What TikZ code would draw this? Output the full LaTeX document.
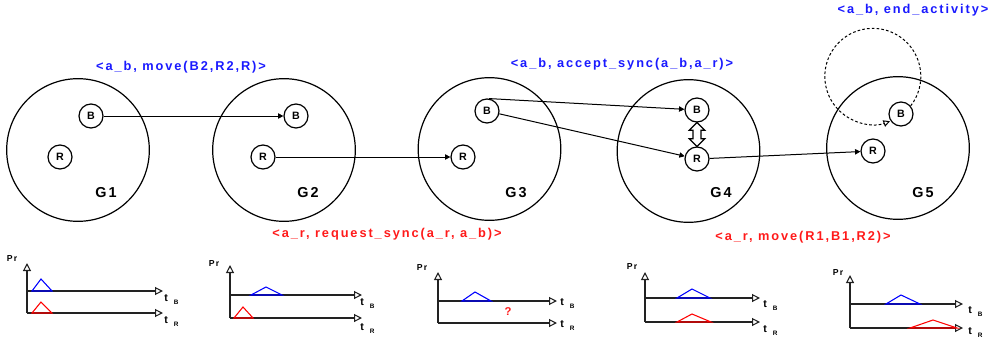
\documentclass[tikz,border=0pt]{standalone}
\usepackage{fontspec}
\setmainfont{Liberation Sans}[LetterSpace=15]
\usepackage{tikz}
\usetikzlibrary{arrows.meta,shapes.arrows}
\definecolor{msgb}{HTML}{1A1AFF}
\definecolor{msgr}{HTML}{FF1A1A}
\definecolor{axc}{HTML}{222222}
\newcommand{\tsub}[1]{t\hspace{4.5pt}\raisebox{-2.5pt}{\fontsize{4.8}{5}\selectfont #1}}
\tikzset{
  grp/.style={draw,line width=0.9pt,circle,minimum size=107pt,inner sep=0pt},
  ag/.style={draw,line width=0.9pt,circle,minimum size=18pt,inner sep=0pt,font=\bfseries\fontsize{8}{9}\selectfont},
  gname/.style={font=\bfseries\fontsize{10.8}{12}\selectfont},
  msg/.style={font=\bfseries\fontsize{9.6}{11}\selectfont,inner sep=0pt},
  ar/.style={-{Triangle[length=4pt,width=4pt]},line width=0.75pt},
  ax/.style={-{Triangle[open,length=6pt,width=6pt]},line width=0.8pt,axc},
  prl/.style={font=\bfseries\fontsize{6.5}{7}\selectfont,inner sep=0pt},
  tl/.style={anchor=base west,inner sep=0pt,font=\bfseries\fontsize{8}{9}\selectfont},
  pkb/.style={draw=blue,line width=0.8pt},
  pkr/.style={draw=red,line width=0.8pt}
}
\begin{document}
\begin{tikzpicture}[x=0.75pt,y=-0.75pt]
\useasboundingbox (0,0) rectangle (989,343);
% groups
\node[grp] (g1) at (78,150) {};
\node[grp] (g2) at (284,150) {};
\node[grp] (g3) at (489.5,149) {};
\node[grp] (g4) at (688.5,151) {};
\node[grp] (g5) at (898,148) {};
\node[gname] (gl1) at (106,193) {G1};
\node[gname] (gl2) at (308,193) {G2};
\node[gname] (gl3) at (516,193) {G3};
\node[gname] (gl4) at (721,193) {G4};
\node[gname] (gl5) at (923,193) {G5};
% agents
\node[ag] (b1) at (91,116) {B};
\node[ag] (r1) at (60,157) {R};
\node[ag] (b2) at (296,116) {B};
\node[ag] (r2) at (263,157) {R};
\node[ag] (b3) at (487,111) {B};
\node[ag] (r3) at (463,157) {R};
\node[ag] (b4) at (697,110) {B};
\node[ag] (r4) at (697,159) {R};
\node[ag] (b5) at (901,114) {B};
\node[ag] (r5) at (873,151) {R};
% moves
\draw[ar] (b1) -- (b2);
\draw[ar] (r2) -- (r3);
\draw[ar] (b3.80) -- (b4);
\draw[ar] (b3) -- (r4);
\draw[ar] (r4) -- (r5);
\node[draw,double arrow,rotate=90,minimum height=18pt,minimum width=11pt,
  inner sep=2.6pt,double arrow head extend=2.8pt,line width=0.9pt] (sync) at (697,134.5) {};
\draw[dashed,dash pattern=on 2pt off 1.6pt,line width=0.75pt,-{Triangle[open,length=5pt,width=5pt]}]
  (b5.40) arc[start angle=38,end angle=-291,radius=48];
% actions
\node[msg,msgb] (m1) at (181,67) {<a\_b, move(B2,R2,R)>};
\node[msg,msgb] (m2) at (622,64) {<a\_b, accept\_sync(a\_b,a\_r)>};
\node[msg,msgb] (m3) at (913,10) {<a\_b, end\_activity>};
\node[msg,msgr] (m4) at (387,234) {<a\_r, request\_sync(a\_r, a\_b)>};
\node[msg,msgr] (m5) at (803,237) {<a\_r, move(R1,B1,R2)>};
% chart 1
\draw[ax] (27,313) -- (27,263);
\draw[ax] (27,291) -- (163,291);
\draw[ax] (27,313) -- (163,313);
\draw[pkb] (32,291) -- (41,279) -- (52,291) -- cycle;
\draw[pkr] (32,313) -- (41,302) -- (52,313) -- cycle;
\node[prl] (p1) at (12,259) {Pr};
\node[tl] (tb1) at (164,301) {\tsub{B}};
\node[tl] (tr1) at (164,323) {\tsub{R}};
% chart 2
\draw[ax] (230,318) -- (230,265);
\draw[ax] (230,295) -- (362,295);
\draw[ax] (230,318) -- (362,318);
\draw[pkb] (251,295) -- (266,287) -- (282,295) -- cycle;
\draw[pkr] (234,318) -- (243,307) -- (253,318) -- cycle;
\node[prl] (p2) at (214,264) {Pr};
\node[tl] (tb2) at (360,305) {\tsub{B}};
\node[tl] (tr2) at (360,330) {\tsub{R}};
% chart 3
\draw[ax] (438,323) -- (438,272);
\draw[ax] (438,301) -- (557,301);
\draw[ax] (438,323) -- (557,323);
\draw[pkb] (462,301) -- (475,292) -- (491,301) -- cycle;
\node[font=\bfseries\fontsize{8.5}{9}\selectfont,msgr] (q3) at (508,312) {?};
\node[prl] (p3) at (422,268) {Pr};
\node[tl] (tb3) at (560,305) {\tsub{B}};
\node[tl] (tr3) at (560,327) {\tsub{R}};
% chart 4
\draw[ax] (645,322) -- (645,272);
\draw[ax] (645,298) -- (760,298);
\draw[ax] (645,322) -- (760,322);
\draw[pkb] (677,298) -- (692,289) -- (710,298) -- cycle;
\draw[pkr] (677,322) -- (692,314) -- (711,322) -- cycle;
\node[prl] (p4) at (632,267) {Pr};
\node[tl] (tb4) at (763,307) {\tsub{B}};
\node[tl] (tr4) at (763,332) {\tsub{R}};
% chart 5
\draw[ax] (850,328) -- (850,275);
\draw[ax] (850,304) -- (963,304);
\draw[ax] (850,328) -- (963,328);
\draw[pkb] (886,304) -- (901,295) -- (920,304) -- cycle;
\draw[pkr] (910,328) -- (933,320) -- (957,328) -- cycle;
\node[prl] (p5) at (838,273) {Pr};
\node[tl] (tb5) at (968,313) {\tsub{B}};
\node[tl] (tr5) at (968,334) {\tsub{R}};
\end{tikzpicture}
\end{document}
